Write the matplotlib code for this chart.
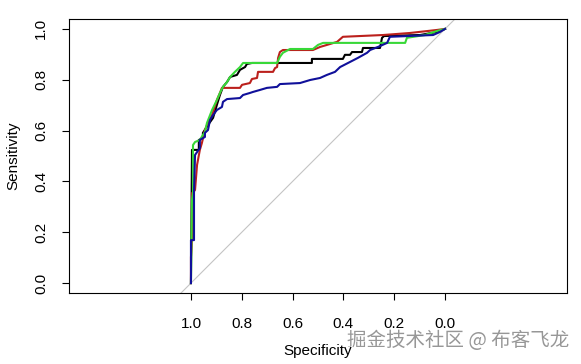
import matplotlib
matplotlib.use("Agg")
import matplotlib.pyplot as plt

# ROC curves: (specificity, sensitivity)
black_spec = [1.000, 0.996, 0.969, 0.969, 0.953, 0.953, 0.933, 0.913, 0.898, 0.886,
              0.874, 0.858, 0.846, 0.819, 0.807, 0.787, 0.780, 0.760, 0.524, 0.524,
              0.402, 0.394, 0.374, 0.366, 0.327, 0.323, 0.256, 0.248, 0.240, 0.098,
              0.031, 0.000]
black_sens = [0.000, 0.524, 0.524, 0.563, 0.571, 0.591, 0.622, 0.650, 0.701, 0.740,
              0.772, 0.791, 0.811, 0.819, 0.839, 0.850, 0.862, 0.866, 0.866, 0.882,
              0.882, 0.898, 0.898, 0.909, 0.909, 0.925, 0.925, 0.965, 0.972, 0.976,
              0.988, 1.000]

red_spec = [1.000, 1.000, 0.996, 0.996, 0.984, 0.976, 0.965, 0.957, 0.945, 0.937,
            0.917, 0.898, 0.886, 0.878, 0.807, 0.799, 0.768, 0.760, 0.740, 0.736,
            0.677, 0.669, 0.661, 0.657, 0.650, 0.638, 0.520, 0.492, 0.465, 0.425,
            0.402, 0.244, 0.138, 0.031, 0.000]
red_sens = [0.000, 0.102, 0.169, 0.354, 0.366, 0.465, 0.524, 0.551, 0.602, 0.622,
            0.661, 0.720, 0.748, 0.768, 0.768, 0.780, 0.787, 0.803, 0.807, 0.831,
            0.831, 0.846, 0.850, 0.886, 0.909, 0.917, 0.917, 0.929, 0.937, 0.949,
            0.969, 0.976, 0.984, 0.996, 1.000]

green_spec = [1.000, 0.996, 0.992, 0.992, 0.984, 0.965, 0.953, 0.945, 0.937, 0.917,
              0.898, 0.886, 0.874, 0.858, 0.846, 0.827, 0.807, 0.795, 0.661, 0.650,
              0.638, 0.610, 0.520, 0.500, 0.480, 0.157, 0.150, 0.079, 0.031, 0.000]
green_sens = [0.000, 0.327, 0.354, 0.543, 0.555, 0.563, 0.583, 0.594, 0.630, 0.681,
              0.720, 0.748, 0.772, 0.791, 0.811, 0.831, 0.850, 0.866, 0.866, 0.890,
              0.906, 0.921, 0.921, 0.937, 0.945, 0.945, 0.965, 0.976, 0.992, 1.000]

blue_spec = [1.000, 1.000, 0.988, 0.988, 0.984, 0.965, 0.965, 0.945, 0.945, 0.933,
             0.925, 0.913, 0.898, 0.878, 0.874, 0.858, 0.807, 0.795, 0.768, 0.756,
             0.728, 0.701, 0.661, 0.650, 0.571, 0.531, 0.492, 0.465, 0.433, 0.413,
             0.374, 0.343, 0.307, 0.295, 0.264, 0.228, 0.217, 0.047, 0.020, 0.000]
blue_sens = [0.000, 0.169, 0.169, 0.354, 0.504, 0.531, 0.563, 0.575, 0.591, 0.602,
             0.642, 0.661, 0.681, 0.693, 0.713, 0.724, 0.728, 0.740, 0.748, 0.752,
             0.760, 0.768, 0.772, 0.783, 0.787, 0.799, 0.807, 0.819, 0.831, 0.850,
             0.870, 0.886, 0.906, 0.917, 0.929, 0.945, 0.969, 0.976, 0.988, 1.000]

tick_vals = [1.0, 0.8, 0.6, 0.4, 0.2, 0.0]
tick_labels = ["1.0", "0.8", "0.6", "0.4", "0.2", "0.0"]

plt.rcParams['font.family'] = ['Liberation Sans', 'DejaVu Sans']

fig = plt.figure(figsize=(5.81, 3.64), dpi=100)
ax = fig.add_axes([69 / 581, 71 / 364, 498 / 581, 274 / 364])

# chance diagonal
ax.axline((1, 0), (0, 1), color='#c4c4c4', lw=0.8, zorder=1)

ax.plot(black_spec, black_sens, color='black', lw=1.5, zorder=2)
ax.plot(red_spec, red_sens, color='#bb201c', lw=1.5, zorder=3)
ax.plot(green_spec, green_sens, color='#38d838', lw=1.5, zorder=4)
ax.plot(blue_spec, blue_sens, color='#10109a', lw=1.5, zorder=5)

ax.set_xlim(1.48, -0.48)
ax.set_ylim(-0.039, 1.039)
ax.set_xticks(tick_vals)
ax.set_xticklabels(tick_labels)
ax.set_yticks(tick_vals)
ax.set_yticklabels(tick_labels, rotation=90, va='center')
ax.tick_params(axis='both', direction='out', length=5, width=0.8,
               labelsize=11, colors='black')
ax.tick_params(axis='x', pad=12)
ax.tick_params(axis='y', pad=10)
for s in ax.spines.values():
    s.set_linewidth(0.8)

fig.text(318 / 581, 1 - 351 / 364, "Specificity", ha='center', va='center', fontsize=11)
fig.text(13 / 581, 1 - 156 / 364, "Sensitivity", ha='center', va='center',
         rotation=90, fontsize=11)

# watermark
fig.text(569 / 581, 1 - 340 / 364, "掘金技术社区 @ 布客飞龙", ha='right', va='center',
         fontsize=14, color='#8c8c8c', alpha=0.9,
         family=['Noto Sans CJK SC', 'DejaVu Sans'])

fig.savefig("out.png", dpi=100)
